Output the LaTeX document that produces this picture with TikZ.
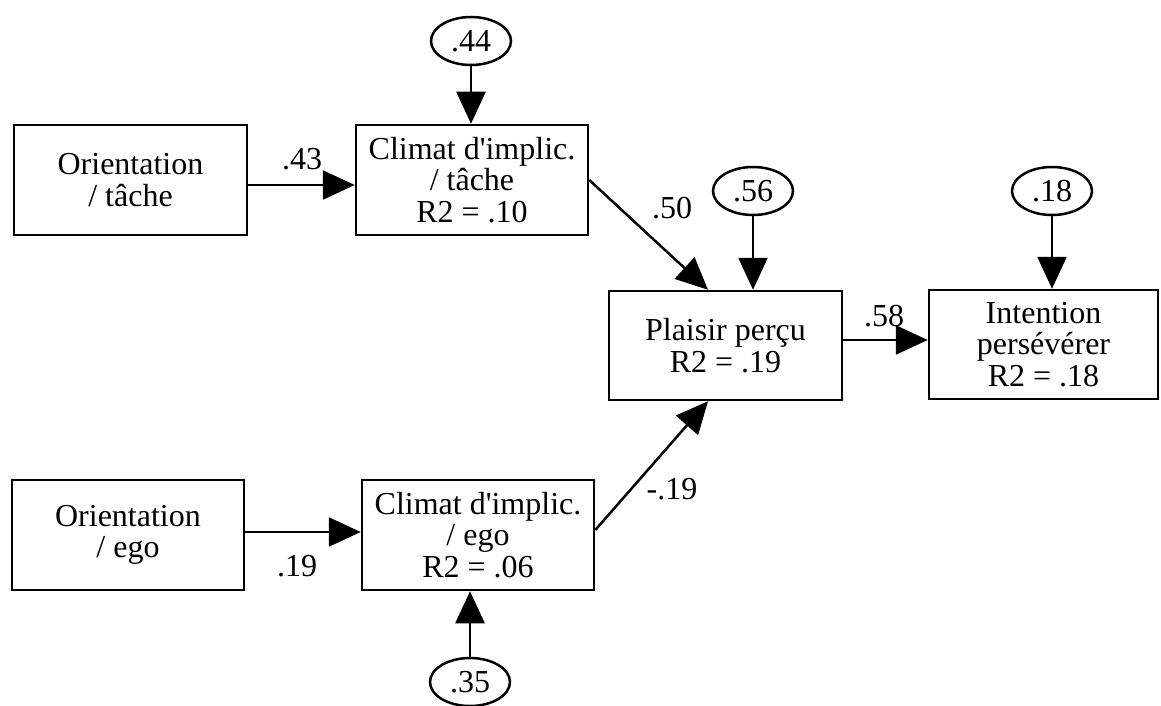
\documentclass[tikz,border=0pt]{standalone}
\usepackage{fontspec}
\setmainfont{Liberation Serif}[Ligatures=TeXOff]
\usetikzlibrary{arrows.meta,shapes.geometric}
\tikzset{
  box/.style={draw, line width=2.5pt, rectangle, align=center, inner sep=0pt,
    font=\fontsize{32}{31.5}\selectfont},
  err/.style={draw, line width=2.5pt, ellipse, inner sep=0pt, minimum width=80pt, minimum height=48pt,
    font=\fontsize{32}{31.5}\selectfont},
  path/.style={line width=2.5pt, -{Triangle[length=32pt,width=29pt]}},
  coef/.style={font=\fontsize{32}{31.5}\selectfont, inner sep=0pt}
}
\begin{document}
\begin{tikzpicture}[x=1pt,y=-1pt]
\useasboundingbox (0,0) rectangle (1161,706);
\node[box, minimum width=233pt, minimum height=110pt] (OT) at (130.5,180) {Orientation\\/ tâche};
\node[box, minimum width=232pt, minimum height=110pt] (CT) at (472,180) {Climat d'implic.\\/ tâche\\R2 = .10};
\node[box, minimum width=233pt, minimum height=109pt] (PP) at (725.5,345.5) {Plaisir perçu\\R2 = .19};
\node[box, minimum width=229pt, minimum height=109pt] (IP) at (1043.5,344.5) {Intention\\persévérer\\R2 = .18};
\node[box, minimum width=232pt, minimum height=110pt] (OE) at (128,535) {Orientation\\/ ego};
\node[box, minimum width=232pt, minimum height=110pt] (CE) at (478,535) {Climat d'implic.\\/ ego\\R2 = .06};
\node[err] (e44) at (471,41) {.44};
\node[err] (e56) at (753,191) {.56};
\node[err] (e18) at (1052,191) {.18};
\node[err] (e35) at (470,682) {.35};

\draw[path] ([yshift=-5pt]OT.east) -- ([yshift=-5pt]CT.west);
\draw[path] (e44.south) -- (e44.south |- CT.north);
\draw[path] (CT.east) -- ([xshift=-17.5pt]PP.north);
\draw[path] (e56.south) -- (e56.south |- PP.north);
\draw[path] (e18.south) -- (e18.south |- IP.north);
\draw[path] ([yshift=5.5pt]PP.east) -- ([yshift=5.5pt]PP.east -| IP.west);
\draw[path] ([yshift=3pt]OE.east) -- ([yshift=3pt]OE.east -| CE.west);
\draw[path] ([yshift=5pt]CE.east) -- ([xshift=-17.5pt]PP.south);
\draw[path] (e35.north) -- (e35.north |- CE.south);

\node[coef] (l43) at (302,159) {.43};
\node[coef] (l50) at (672,208) {.50};
\node[coef] (l58) at (884,316) {.58};
\node[coef] (l19) at (297,566) {.19};
\node[coef] (lm19) at (672,489) {-.19};
\end{tikzpicture}
\end{document}
